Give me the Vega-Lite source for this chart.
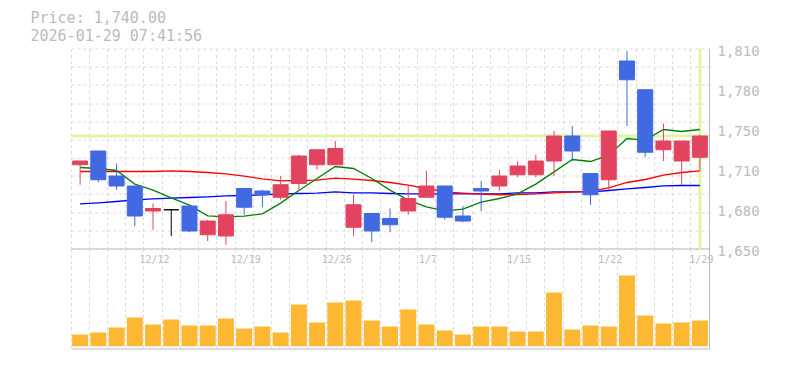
{
  "$schema": "https://vega.github.io/schema/vega-lite/v6.json",
  "background": "white",
  "padding": {"left": 30, "top": 10.5, "right": 5, "bottom": 5},
  "title": {
    "text": "Price: 1,740.00",
    "subtitle": "2026-01-29 07:41:56",
    "anchor": "start",
    "dx": -39,
    "font": "DejaVu Sans Mono",
    "fontSize": 15,
    "fontWeight": "normal",
    "color": "#bbbbbb",
    "subtitleFont": "DejaVu Sans Mono",
    "subtitleFontSize": 15,
    "subtitleColor": "#bbbbbb",
    "subtitlePadding": 2.5,
    "offset": 1
  },
  "datasets": {
    "ohlc": [
      {"d": "12/8", "open": 1717, "high": 1720, "low": 1701, "close": 1720, "vol": 11700, "ma5": 1714.8, "ma25": 1711.6, "ma75": 1685.7},
      {"d": "12/9", "open": 1728, "high": 1728, "low": 1703, "close": 1705, "vol": 13700, "ma5": 1714.0, "ma25": 1711.6, "ma75": 1686.5},
      {"d": "12/10", "open": 1708, "high": 1718, "low": 1697, "close": 1700, "vol": 18700, "ma5": 1712.4, "ma25": 1711.6, "ma75": 1687.6},
      {"d": "12/11", "open": 1700, "high": 1700, "low": 1668, "close": 1676, "vol": 28700, "ma5": 1701.5, "ma25": 1711.6, "ma75": 1688.9},
      {"d": "12/12", "open": 1680, "high": 1686, "low": 1665, "close": 1682, "vol": 21700, "ma5": 1696.7, "ma25": 1711.6, "ma75": 1689.7},
      {"d": "12/15", "open": 1681, "high": 1681, "low": 1660, "close": 1681, "vol": 26700, "ma5": 1690.5, "ma25": 1712.1, "ma75": 1690.3},
      {"d": "12/16", "open": 1684, "high": 1684, "low": 1663, "close": 1664, "vol": 20700, "ma5": 1684.7, "ma25": 1711.6, "ma75": 1690.8},
      {"d": "12/17", "open": 1661, "high": 1673, "low": 1656, "close": 1672, "vol": 20700, "ma5": 1676.1, "ma25": 1710.8, "ma75": 1691.3},
      {"d": "12/18", "open": 1660, "high": 1688, "low": 1653, "close": 1677, "vol": 27700, "ma5": 1675.3, "ma25": 1709.7, "ma75": 1692.1},
      {"d": "12/19", "open": 1698, "high": 1698, "low": 1677, "close": 1683, "vol": 17700, "ma5": 1675.9, "ma25": 1707.9, "ma75": 1692.4},
      {"d": "12/22", "open": 1696, "high": 1697, "low": 1683, "close": 1693, "vol": 19700, "ma5": 1677.7, "ma25": 1705.7, "ma75": 1692.9},
      {"d": "12/23", "open": 1691, "high": 1708, "low": 1689, "close": 1701, "vol": 13700, "ma5": 1686.3, "ma25": 1704.1, "ma75": 1693.7},
      {"d": "12/24", "open": 1702, "high": 1725, "low": 1697, "close": 1724, "vol": 41700, "ma5": 1696.4, "ma25": 1704.4, "ma75": 1694.0},
      {"d": "12/25", "open": 1717, "high": 1729, "low": 1713, "close": 1729, "vol": 23700, "ma5": 1706.0, "ma25": 1704.7, "ma75": 1694.3},
      {"d": "12/26", "open": 1717, "high": 1736, "low": 1717, "close": 1730, "vol": 43700, "ma5": 1715.6, "ma25": 1706.3, "ma75": 1695.3},
      {"d": "12/29", "open": 1667, "high": 1693, "low": 1660, "close": 1685, "vol": 45700, "ma5": 1714.0, "ma25": 1705.5, "ma75": 1694.5},
      {"d": "12/30", "open": 1678, "high": 1678, "low": 1655, "close": 1664, "vol": 25700, "ma5": 1706.0, "ma25": 1704.4, "ma75": 1694.5},
      {"d": "1/5", "open": 1674, "high": 1682, "low": 1663, "close": 1669, "vol": 19700, "ma5": 1696.7, "ma25": 1702.8, "ma75": 1694.0},
      {"d": "1/6", "open": 1680, "high": 1700, "low": 1677, "close": 1690, "vol": 36700, "ma5": 1688.7, "ma25": 1700.7, "ma75": 1693.7},
      {"d": "1/7", "open": 1691, "high": 1712, "low": 1691, "close": 1700, "vol": 21700, "ma5": 1683.3, "ma25": 1698.0, "ma75": 1693.7},
      {"d": "1/8", "open": 1700, "high": 1700, "low": 1673, "close": 1675, "vol": 15700, "ma5": 1680.1, "ma25": 1695.3, "ma75": 1693.7},
      {"d": "1/9", "open": 1676, "high": 1684, "low": 1671, "close": 1672, "vol": 11700, "ma5": 1681.5, "ma25": 1694.3, "ma75": 1693.7},
      {"d": "1/13", "open": 1698, "high": 1704, "low": 1680, "close": 1696, "vol": 19700, "ma5": 1687.1, "ma25": 1693.5, "ma75": 1693.7},
      {"d": "1/14", "open": 1700, "high": 1713, "low": 1696, "close": 1708, "vol": 19700, "ma5": 1690.0, "ma25": 1693.0, "ma75": 1693.7},
      {"d": "1/15", "open": 1709, "high": 1720, "low": 1707, "close": 1716, "vol": 14700, "ma5": 1693.7, "ma25": 1693.2, "ma75": 1694.5},
      {"d": "1/16", "open": 1709, "high": 1725, "low": 1707, "close": 1720, "vol": 14700, "ma5": 1701.5, "ma25": 1693.7, "ma75": 1694.5},
      {"d": "1/19", "open": 1720, "high": 1744, "low": 1708, "close": 1740, "vol": 53700, "ma5": 1711.3, "ma25": 1694.5, "ma75": 1695.3},
      {"d": "1/20", "open": 1740, "high": 1748, "low": 1720, "close": 1728, "vol": 16700, "ma5": 1721.2, "ma25": 1695.1, "ma75": 1695.3},
      {"d": "1/21", "open": 1710, "high": 1710, "low": 1685, "close": 1693, "vol": 20700, "ma5": 1719.6, "ma25": 1695.9, "ma75": 1695.3},
      {"d": "1/22", "open": 1705, "high": 1744, "low": 1697, "close": 1744, "vol": 19700, "ma5": 1724.7, "ma25": 1698.5, "ma75": 1696.4},
      {"d": "1/23", "open": 1800, "high": 1808, "low": 1748, "close": 1785, "vol": 70700, "ma5": 1738.0, "ma25": 1702.8, "ma75": 1697.7},
      {"d": "1/26", "open": 1777, "high": 1777, "low": 1723, "close": 1727, "vol": 30700, "ma5": 1736.7, "ma25": 1705.2, "ma75": 1698.8},
      {"d": "1/27", "open": 1729, "high": 1750, "low": 1720, "close": 1736, "vol": 22700, "ma5": 1745.2, "ma25": 1708.7, "ma75": 1700.1},
      {"d": "1/28", "open": 1720, "high": 1736, "low": 1701, "close": 1736, "vol": 23700, "ma5": 1743.6, "ma25": 1710.8, "ma75": 1700.4},
      {"d": "1/29", "open": 1723, "high": 1741, "low": 1712, "close": 1740, "vol": 25700, "ma5": 1745.2, "ma25": 1712.1, "ma75": 1700.4}
    ],
    "current": [{"d": "1/29", "price": 1740}]
  },
  "spacing": 0,
  "bounds": "flush",
  "vconcat": [
    {
      "width": 638,
      "height": 200,
      "resolve": {"axis": {"y": "independent"}},
      "layer": [
        {
          "data": {"name": "current"},
          "mark": {"type": "rule", "color": "#e1f5a5", "strokeWidth": 3},
          "encoding": {
            "y": {"field": "price", "type": "quantitative",
              "scale": {"domain": [1650, 1810], "nice": false, "zero": false},
              "axis": {"orient": "left", "title": null, "labels": false, "ticks": false, "domain": false, "grid": true,
                "gridColor": "#dcdcdc", "gridDash": [3, 3],
                "values": [1650, 1664.545, 1679.091, 1693.636, 1708.182, 1722.727, 1737.273, 1751.818, 1766.364, 1780.909, 1795.455, 1810]}}
          }
        },
        {
          "data": {"name": "current"},
          "mark": {"type": "rule", "color": "#e1f5a5", "strokeWidth": 3},
          "encoding": {
            "x": {"field": "d", "type": "ordinal", "sort": null,
              "scale": {"type": "band", "paddingInner": 0, "paddingOuter": 0, "domain": ["12/8","12/9","12/10","12/11","12/12","12/15","12/16","12/17","12/18","12/19","12/22","12/23","12/24","12/25","12/26","12/29","12/30","1/5","1/6","1/7","1/8","1/9","1/13","1/14","1/15","1/16","1/19","1/20","1/21","1/22","1/23","1/26","1/27","1/28","1/29"]},
              "axis": {"bandPosition": 0, "title": null, "grid": true, "gridColor": "#dcdcdc", "gridDash": [3, 3], "ticks": false, "domain": true, "domainColor": "#bbbbbb",
                "labelExpr": "indexof(['12/12','12/19','12/26','1/7','1/15','1/22','1/29'], datum.value) >= 0 ? datum.value : ''",
                "labelOffset": 1.5, "labelFont": "DejaVu Sans Mono", "labelFontSize": 10, "labelColor": "#bbbbbb", "labelPadding": 6, "labelOverlap": false, "labelBound": false, "labelAngle": 0}}
          }
        },
        {
          "data": {"name": "ohlc"},
          "mark": {"type": "line", "color": "#0000ff", "strokeWidth": 1.3},
          "encoding": {
            "x": {"field": "d", "type": "ordinal", "sort": null,
              "scale": {"type": "band", "paddingInner": 0, "paddingOuter": 0, "domain": ["12/8","12/9","12/10","12/11","12/12","12/15","12/16","12/17","12/18","12/19","12/22","12/23","12/24","12/25","12/26","12/29","12/30","1/5","1/6","1/7","1/8","1/9","1/13","1/14","1/15","1/16","1/19","1/20","1/21","1/22","1/23","1/26","1/27","1/28","1/29"]},
              "axis": {"bandPosition": 0, "title": null, "grid": true, "gridColor": "#dcdcdc", "gridDash": [3, 3], "ticks": false, "domain": true, "domainColor": "#bbbbbb",
                "labelExpr": "indexof(['12/12','12/19','12/26','1/7','1/15','1/22','1/29'], datum.value) >= 0 ? datum.value : ''",
                "labelOffset": 1.5, "labelFont": "DejaVu Sans Mono", "labelFontSize": 10, "labelColor": "#bbbbbb", "labelPadding": 6, "labelOverlap": false, "labelBound": false, "labelAngle": 0}},
            "y": {"field": "ma75", "type": "quantitative", "axis": null}
          }
        },
        {
          "data": {"name": "ohlc"},
          "mark": {"type": "line", "color": "#ff0000", "strokeWidth": 1.3},
          "encoding": {
            "x": {"field": "d", "type": "ordinal", "sort": null,
              "scale": {"type": "band", "paddingInner": 0, "paddingOuter": 0, "domain": ["12/8","12/9","12/10","12/11","12/12","12/15","12/16","12/17","12/18","12/19","12/22","12/23","12/24","12/25","12/26","12/29","12/30","1/5","1/6","1/7","1/8","1/9","1/13","1/14","1/15","1/16","1/19","1/20","1/21","1/22","1/23","1/26","1/27","1/28","1/29"]},
              "axis": {"bandPosition": 0, "title": null, "grid": true, "gridColor": "#dcdcdc", "gridDash": [3, 3], "ticks": false, "domain": true, "domainColor": "#bbbbbb",
                "labelExpr": "indexof(['12/12','12/19','12/26','1/7','1/15','1/22','1/29'], datum.value) >= 0 ? datum.value : ''",
                "labelOffset": 1.5, "labelFont": "DejaVu Sans Mono", "labelFontSize": 10, "labelColor": "#bbbbbb", "labelPadding": 6, "labelOverlap": false, "labelBound": false, "labelAngle": 0}},
            "y": {"field": "ma25", "type": "quantitative", "axis": null}
          }
        },
        {
          "data": {"name": "ohlc"},
          "mark": {"type": "line", "color": "#008000", "strokeWidth": 1.3},
          "encoding": {
            "x": {"field": "d", "type": "ordinal", "sort": null,
              "scale": {"type": "band", "paddingInner": 0, "paddingOuter": 0, "domain": ["12/8","12/9","12/10","12/11","12/12","12/15","12/16","12/17","12/18","12/19","12/22","12/23","12/24","12/25","12/26","12/29","12/30","1/5","1/6","1/7","1/8","1/9","1/13","1/14","1/15","1/16","1/19","1/20","1/21","1/22","1/23","1/26","1/27","1/28","1/29"]},
              "axis": {"bandPosition": 0, "title": null, "grid": true, "gridColor": "#dcdcdc", "gridDash": [3, 3], "ticks": false, "domain": true, "domainColor": "#bbbbbb",
                "labelExpr": "indexof(['12/12','12/19','12/26','1/7','1/15','1/22','1/29'], datum.value) >= 0 ? datum.value : ''",
                "labelOffset": 1.5, "labelFont": "DejaVu Sans Mono", "labelFontSize": 10, "labelColor": "#bbbbbb", "labelPadding": 6, "labelOverlap": false, "labelBound": false, "labelAngle": 0}},
            "y": {"field": "ma5", "type": "quantitative", "axis": null}
          }
        },
        {
          "data": {"name": "ohlc"},
          "mark": {"type": "rule", "strokeWidth": 1},
          "encoding": {
            "x": {"field": "d", "type": "ordinal", "sort": null,
              "scale": {"type": "band", "paddingInner": 0, "paddingOuter": 0, "domain": ["12/8","12/9","12/10","12/11","12/12","12/15","12/16","12/17","12/18","12/19","12/22","12/23","12/24","12/25","12/26","12/29","12/30","1/5","1/6","1/7","1/8","1/9","1/13","1/14","1/15","1/16","1/19","1/20","1/21","1/22","1/23","1/26","1/27","1/28","1/29"]},
              "axis": {"bandPosition": 0, "title": null, "grid": true, "gridColor": "#dcdcdc", "gridDash": [3, 3], "ticks": false, "domain": true, "domainColor": "#bbbbbb",
                "labelExpr": "indexof(['12/12','12/19','12/26','1/7','1/15','1/22','1/29'], datum.value) >= 0 ? datum.value : ''",
                "labelOffset": 1.5, "labelFont": "DejaVu Sans Mono", "labelFontSize": 10, "labelColor": "#bbbbbb", "labelPadding": 6, "labelOverlap": false, "labelBound": false, "labelAngle": 0}},
            "y": {"field": "low", "type": "quantitative",
              "axis": {"orient": "right", "title": null, "grid": false, "ticks": false, "domain": true, "domainColor": "#bbbbbb",
                "values": [1650, 1682, 1714, 1746, 1778, 1810],
                "labelExpr": "format(round(datum.value / 10) * 10, ',')",
                "labelFont": "DejaVu Sans Mono", "labelFontSize": 14, "labelColor": "#bbbbbb", "labelPadding": 8, "labelOffset": 3, "labelBound": false, "labelFlush": false, "labelOverlap": false}},
            "y2": {"field": "high"},
            "color": {"condition": [{"test": "datum.close > datum.open", "value": "#e2445f"}, {"test": "datum.close < datum.open", "value": "#4169e1"}], "value": "#000000"}
          }
        },
        {
          "data": {"name": "ohlc"},
          "mark": {"type": "bar", "width": 15, "strokeWidth": 1},
          "encoding": {
            "x": {"field": "d", "type": "ordinal", "sort": null,
              "scale": {"type": "band", "paddingInner": 0, "paddingOuter": 0, "domain": ["12/8","12/9","12/10","12/11","12/12","12/15","12/16","12/17","12/18","12/19","12/22","12/23","12/24","12/25","12/26","12/29","12/30","1/5","1/6","1/7","1/8","1/9","1/13","1/14","1/15","1/16","1/19","1/20","1/21","1/22","1/23","1/26","1/27","1/28","1/29"]},
              "axis": {"bandPosition": 0, "title": null, "grid": true, "gridColor": "#dcdcdc", "gridDash": [3, 3], "ticks": false, "domain": true, "domainColor": "#bbbbbb",
                "labelExpr": "indexof(['12/12','12/19','12/26','1/7','1/15','1/22','1/29'], datum.value) >= 0 ? datum.value : ''",
                "labelOffset": 1.5, "labelFont": "DejaVu Sans Mono", "labelFontSize": 10, "labelColor": "#bbbbbb", "labelPadding": 6, "labelOverlap": false, "labelBound": false, "labelAngle": 0}},
            "y": {"field": "open", "type": "quantitative", "axis": null},
            "y2": {"field": "close"},
            "color": {"condition": [{"test": "datum.close > datum.open", "value": "#e2445f"}, {"test": "datum.close < datum.open", "value": "#4169e1"}], "value": "#000000"},
            "stroke": {"condition": [{"test": "datum.close > datum.open", "value": "#e2445f"}, {"test": "datum.close < datum.open", "value": "#4169e1"}], "value": "#000000"}
          }
        }
      ]
    },
    {
      "width": 638,
      "height": 100,
      "data": {"name": "ohlc"},
      "mark": {"type": "bar", "width": 16, "color": "#fdb833"},
      "encoding": {
        "x": {"field": "d", "type": "ordinal", "sort": null,
          "scale": {"type": "band", "paddingInner": 0, "paddingOuter": 0, "domain": ["12/8","12/9","12/10","12/11","12/12","12/15","12/16","12/17","12/18","12/19","12/22","12/23","12/24","12/25","12/26","12/29","12/30","1/5","1/6","1/7","1/8","1/9","1/13","1/14","1/15","1/16","1/19","1/20","1/21","1/22","1/23","1/26","1/27","1/28","1/29"]},
          "axis": {"bandPosition": 0, "title": null, "grid": true, "gridColor": "#dcdcdc", "gridDash": [3, 3], "ticks": false, "labels": false, "domain": true, "domainColor": "#bbbbbb"}},
        "y": {"field": "vol", "type": "quantitative",
          "scale": {"domain": [-2300, 97700], "nice": false, "zero": false},
          "axis": {"orient": "right", "title": null, "grid": false, "ticks": false, "labels": false, "domain": true, "domainColor": "#bbbbbb"}}
      }
    }
  ],
  "config": {
    "view": {"stroke": null},
    "axis": {"domainWidth": 1, "gridWidth": 1}
  }
}
